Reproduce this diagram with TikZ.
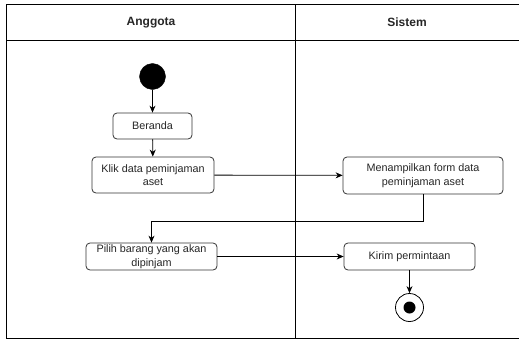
\documentclass[tikz,border=0pt]{standalone}
\usepackage{fontspec}
\setmainfont{Liberation Sans}
\usetikzlibrary{arrows.meta}
\begin{document}
\begin{tikzpicture}[x=1pt,y=-1pt,
  lane/.style={draw=black,line width=0.9pt},
  lanetitle/.style={font=\fontsize{12}{14}\selectfont\bfseries,text=black!85},
  action/.style={draw=black!80,line width=0.8pt,rounded corners=4pt,fill=white,
    inner sep=0pt,align=center,font=\fontsize{10.8}{13.5}\selectfont,text=black!85},
  flow/.style={draw=black,line width=0.8pt,-{Stealth[length=7pt,width=6pt]}},
  startnode/.style={circle,fill=black,draw=black,minimum size=26pt,inner sep=0pt},
  endring/.style={circle,draw=black,line width=0.8pt,fill=white,minimum size=28pt,inner sep=0pt},
  enddot/.style={circle,fill=black,minimum size=12pt,inner sep=0pt}]
  \useasboundingbox (0,0) rectangle (519,340);
  % swimlane frame
  \draw[lane] (519,4.5) -- (6.5,4.5) -- (6.5,338.5) -- (519,338.5);
  \draw[lane] (6.5,40.5) -- (519,40.5);
  \draw[lane] (295.5,4.5) -- (295.5,338.5);
  \node[lanetitle] (laneA) at (151,22.5) {Anggota};
  \node[lanetitle] (laneS) at (407,22.5) {Sistem};
  % activities
  \node[startnode] (start) at (152.5,76.5) {};
  \node[action,minimum width=79pt,minimum height=26pt] (beranda) at (152.5,126) {Beranda};
  \node[action,minimum width=122pt,minimum height=36pt] (klik) at (153,175) {Klik data peminjaman\\aset};
  \node[action,minimum width=160pt,minimum height=37pt] (tampil) at (423,175.5) {Menampilkan form data\\peminjaman aset};
  \node[action,minimum width=131pt,minimum height=27pt] (pilih) at (151.5,256.5) {Pilih barang yang akan\\dipinjam};
  \node[action,minimum width=131pt,minimum height=27pt] (kirim) at (409.5,256.5) {Kirim permintaan};
  \node[endring] (final) at (409.5,307.5) {};
  \node[enddot] (finaldot) at (final.center) {};
  % control flow
  \draw[flow] (start) -- (beranda);
  \draw[flow] (beranda) -- (klik);
  \draw[flow] (klik) -- (tampil);
  \draw[flow] (tampil.south) |- (151.5,221) -- (pilih.north);
  \draw[flow] (pilih) -- (kirim);
  \draw[flow] (kirim) -- (final);
\end{tikzpicture}
\end{document}
